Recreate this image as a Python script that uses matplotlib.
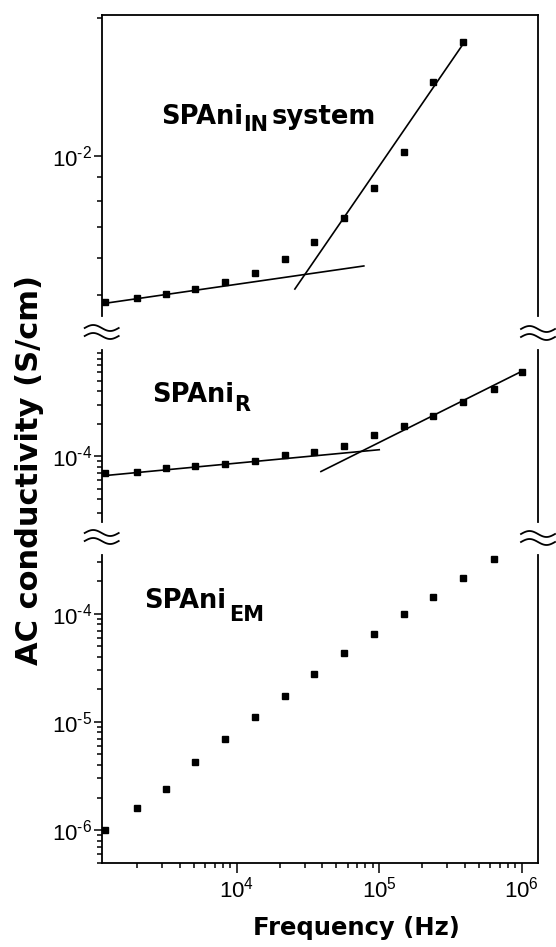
import numpy as np
import matplotlib
matplotlib.use("Agg")
import matplotlib.pyplot as plt
from matplotlib.lines import Line2D
from matplotlib.ticker import LogLocator, NullFormatter, FuncFormatter

plt.rcParams['font.family'] = ['Liberation Sans', 'DejaVu Sans']
plt.rcParams['mathtext.fontset'] = 'custom'
plt.rcParams['mathtext.rm'] = 'Liberation Sans'

# frequencies (Hz)
freq = [1.2e3, 2.0e3, 3.2e3, 5.1e3, 8.3e3, 1.35e4, 2.2e4, 3.5e4, 5.7e4,
        9.2e4, 1.5e5, 2.4e5, 3.9e5, 6.4e5, 1.0e6]

# AC conductivity (S/cm)
sigma_in = [4.82e-3, 4.91e-3, 5.01e-3, 5.14e-3, 5.32e-3, 5.57e-3, 5.97e-3,
            6.50e-3, 7.33e-3, 8.53e-3, 1.02e-2, 1.45e-2, 1.77e-2]
sigma_r = [7.04e-5, 7.23e-5, 7.78e-5, 8.05e-5, 8.53e-5, 9.08e-5, 1.02e-4,
           1.09e-4, 1.25e-4, 1.56e-4, 1.89e-4, 2.34e-4, 3.15e-4, 4.19e-4, 5.97e-4]
sigma_em = [1.0e-6, 1.6e-6, 2.39e-6, 4.24e-6, 6.9e-6, 1.12e-5, 1.72e-5,
            2.8e-5, 4.37e-5, 6.5e-5, 1.0e-4, 1.44e-4, 2.15e-4, 3.2e-4]

# straight-line fits drawn on the figure (end points)
in_low_f, in_low_s = [1.22e3, 7.8e4], [4.79e-3, 5.77e-3]
in_high_f, in_high_s = [2.56e4, 3.95e5], [5.14e-3, 1.77e-2]
r_low_f, r_low_s = [1.13e3, 1.0e5], [6.59e-5, 1.15e-4]
r_high_f, r_high_s = [3.9e4, 1.0e6], [7.23e-5, 6.1e-4]

W, H = 556, 947
fig = plt.figure(figsize=(W / 100, H / 100), dpi=100)


def axes_px(top, bottom, left=101.7, right=538):
    return fig.add_axes([left / W, 1 - bottom / H, (right - left) / W, (bottom - top) / H])


ax1 = axes_px(15, 316)
ax2 = axes_px(350, 522)
ax3 = axes_px(555, 863)


def pow_label(v, p):
    e = round(np.log10(v))
    s = str(e).replace('-', '\u2010')
    return r'$\mathregular{10^{%s}}$' % s


fmt = FuncFormatter(pow_label)
for ax, ylim in [(ax1, (4.49e-3, 2.03e-2)), (ax2, (2.47e-5, 9.6e-4)), (ax3, (4.96e-7, 3.5e-4))]:
    ax.set_xscale('log'); ax.set_yscale('log')
    ax.set_xlim(1130, 1.3e6); ax.set_ylim(*ylim)
    ax.yaxis.set_major_locator(LogLocator(base=10, numticks=12))
    ax.yaxis.set_minor_locator(LogLocator(base=10, subs=np.arange(2, 10), numticks=12))
    ax.yaxis.set_major_formatter(fmt)
    ax.yaxis.set_minor_formatter(NullFormatter())
    ax.xaxis.set_major_formatter(fmt)
    ax.xaxis.set_minor_formatter(NullFormatter())
    ax.tick_params(which='both', direction='out', right=False, top=False,
                   labelsize=16, width=1.1, pad=1)
    ax.tick_params(which='major', length=6)
    ax.tick_params(which='minor', length=3.5)
    ax.spines['top'].set_visible(False)
    for s in ax.spines.values():
        s.set_linewidth(1.3)
    ax.patch.set_alpha(0)

ax1.spines['top'].set_visible(True)
for ax in (ax1, ax2):
    ax.spines['bottom'].set_visible(False)
    ax.tick_params(which='both', bottom=False, labelbottom=False)
ax3.tick_params(axis='x', which='major', length=7, pad=3)

mk = dict(ls='none', marker='s', color='k', ms=4.8)
ax1.plot(freq[:len(sigma_in)], sigma_in, **mk)
ax2.plot(freq[:len(sigma_r)], sigma_r, **mk)
ax3.plot(freq[:len(sigma_em)], sigma_em, **mk)

ln = dict(color='k', lw=1.2)
ax1.plot(in_low_f, in_low_s, **ln); ax1.plot(in_high_f, in_high_s, **ln)
ax2.plot(r_low_f, r_low_s, **ln); ax2.plot(r_high_f, r_high_s, **ln)

# panel labels: main text + lowered subscript, placed piece by piece
renderer = fig.canvas.get_renderer()
BOLD = dict(fontweight='bold', family='DejaVu Sans', va='baseline', ha='left')


def panel_label(x, y, parts):
    for text, size, dy, gap in parts:
        x += gap
        t = fig.text(x / W, 1 - (y + dy) / H, text, fontsize=size, **BOLD)
        x += t.get_window_extent(renderer).width


panel_label(161, 124, [('SPAni', 18.5, 0, 0), ('IN', 15, 7, 0), ('system', 18.5, 0, 4)])
panel_label(152, 402, [('SPAni', 18.5, 0, 0), ('R', 15, 9, 0)])
panel_label(144, 608, [('SPAni', 18.5, 0, 0), ('EM', 15, 13, 3)])

fig.text(30 / W, 1 - 470 / H, 'AC conductivity (S/cm)', rotation=90, ha='center', va='center',
         fontsize=22, fontweight='bold', family='DejaVu Sans')
fig.text(356 / W, 1 - 928 / H, 'Frequency (Hz)', ha='center', va='center',
         fontsize=17.5, fontweight='bold', family='DejaVu Sans')

# axis break marks
t = np.linspace(0, 1, 40)
for xc, yc in [(101.7, 332), (538, 333), (101.7, 537), (538, 538)]:
    for dy in (-4, 4):
        xs = xc - 17 + 34 * t
        ys = yc + dy - 3 * np.sin(2 * np.pi * t)
        fig.add_artist(Line2D(xs / W, 1 - ys / H, transform=fig.transFigure, color='k', lw=1.3))

fig.savefig('out.png', dpi=100)
